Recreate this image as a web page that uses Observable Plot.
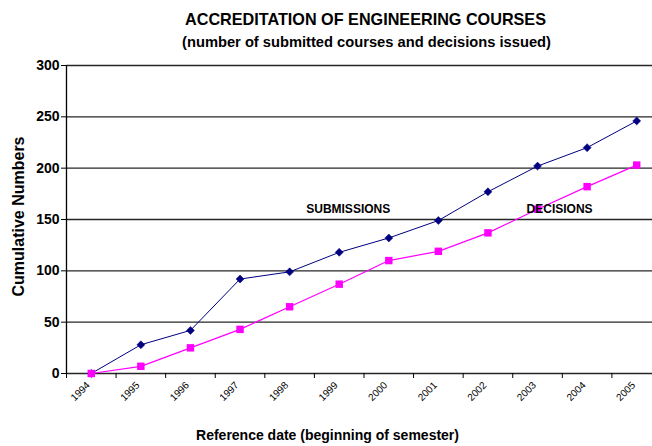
<!DOCTYPE html>
<html>
<head>
<meta charset="utf-8">
<script src="https://cdn.jsdelivr.net/npm/d3@7"></script>
<script src="https://cdn.jsdelivr.net/npm/@observablehq/plot@0.6"></script>
<style>
  html, body { margin: 0; padding: 0; background: #fff; }
  svg { font-family: Arial, "Liberation Sans", sans-serif; }
</style>
</head>
<body>
<div id="chart"></div>
<script>
const years = ["1994","1995","1996","1997","1998","1999","2000","2001","2002","2003","2004","2005"];
const submissions = [0, 28, 42, 92, 99, 118, 132, 149, 177, 202, 220, 246];
const decisions = [0, 7, 25, 43, 65, 87, 110, 119, 137, 160, 182, 203];
const yTicks = [0, 50, 100, 150, 200, 250, 300];
const subLabel = [{text: "SUBMISSIONS", year: "1999", value: 160}];
const decLabel = [{text: "DECISIONS", year: "2003", value: 160}];
const title = "ACCREDITATION OF ENGINEERING COURSES";
const subtitle = "(number of submitted courses and decisions issued)";
const xLabel = "Reference date (beginning of semester)";
const yLabel = "Cumulative Numbers";

const subData = years.map((y, i) => ({year: y, value: submissions[i]}));
const decData = years.map((y, i) => ({year: y, value: decisions[i]}));

const chart = Plot.plot({
  width: 652,
  height: 446,
  marginLeft: 66,
  marginRight: 0,
  marginTop: 65,
  marginBottom: 73,
  style: {fontFamily: "Arial, 'Liberation Sans', sans-serif", background: "#fff"},
  x: {type: "band", domain: years, range: [66, 661], padding: 0, round: false},
  y: {domain: [0, 300], ticks: yTicks},
  marks: [
    Plot.ruleY(yTicks, {stroke: "#000", strokeWidth: 1.3, strokeOpacity: 0.85}),
    Plot.ruleX([0], {x: () => years[0], y1: 0, y2: 300, dx: -24.8, stroke: "#000", strokeWidth: 1.3}),
    Plot.axisY({ticks: yTicks, tickSize: 5, tickPadding: 2, fontSize: 14, fontWeight: "bold", fill: "#000", label: null}),
    Plot.axisX({tickSize: 5, dx: -24.8, text: null, label: null, strokeWidth: 1}),
    Plot.axisX({tickSize: 0, tickRotate: -45, tickPadding: 10, dx: -3, fontSize: 10, label: null}),
    Plot.line(subData, {x: "year", y: "value", stroke: "#000080", strokeWidth: 1}),
    Plot.dot(subData, {x: "year", y: "value", symbol: "diamond2", r: 3.6, fill: "#000080", stroke: "#000080", strokeWidth: 0.5}),
    Plot.line(decData, {x: "year", y: "value", stroke: "#ff00ff", strokeWidth: 1.2}),
    Plot.dot(decData, {x: "year", y: "value", symbol: "square", r: 4.2, fill: "#ff00ff", stroke: "none"}),
    Plot.text(subLabel, {x: "year", y: "value", text: "text", dx: 9, fontSize: 12, fontWeight: "bold", fill: "#000"}),
    Plot.text(decLabel, {x: "year", y: "value", text: "text", dx: 22, fontSize: 12, fontWeight: "bold", fill: "#000"}),
    Plot.text([title], {frameAnchor: "top", textAnchor: "middle", dx: 6, dy: -52, fontSize: 16.2, fontWeight: "bold", fill: "#000"}),
    Plot.text([subtitle], {frameAnchor: "top", textAnchor: "middle", dx: 7, dy: -29, fontSize: 14.7, fontWeight: "bold", fill: "#000"}),
    Plot.text([xLabel], {frameAnchor: "bottom", textAnchor: "middle", dx: -32, dy: 66, fontSize: 14, fontWeight: "bold", fill: "#000"}),
    Plot.text([yLabel], {frameAnchor: "left", textAnchor: "middle", dx: -48, dy: -3, rotate: -90, fontSize: 16, fontWeight: "bold", fill: "#000"})
  ]
});
document.getElementById("chart").appendChild(chart);
</script>
</body>
</html>
